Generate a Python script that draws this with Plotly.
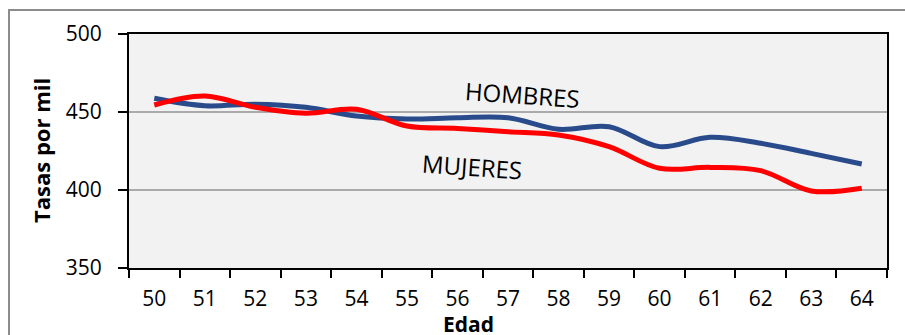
import plotly.graph_objects as go

# Edad (años) y tasas por mil por sexo
edades = ["50", "51", "52", "53", "54", "55", "56", "57", "58", "59", "60", "61", "62", "63", "64"]
hombres = [458.8, 454.0, 455.0, 453.0, 447.4, 445.5, 446.3, 446.3, 438.9, 440.6, 427.8, 433.8, 430.0, 423.5, 416.7]
mujeres = [454.5, 460.3, 453.0, 449.2, 451.7, 441.0, 439.5, 437.4, 435.3, 427.8, 413.9, 414.5, 412.4, 399.4, 401.1]
y_ticks = [350, 400, 450, 500]

FONT = "Open Sans"
AZUL = "#294B8B"
ROJO = "#FF0000"

fig = go.Figure()
fig.add_trace(go.Scatter(x=edades, y=hombres, mode="lines", name="HOMBRES",
                         line=dict(color=AZUL, width=5, shape="spline", smoothing=1.0)))
fig.add_trace(go.Scatter(x=edades, y=mujeres, mode="lines", name="MUJERES",
                         line=dict(color=ROJO, width=5, shape="spline", smoothing=1.0)))

W, H = 905, 335
L, R, T, B = 129, 18, 34, 67
pw, ph = W - L - R, H - T - B


def px(x):
    return (x - L) / pw


def py(y):
    return (H - B - y) / ph


def etiqueta(texto, x, y, yref="paper", size=21, angle=0):
    return dict(text=texto, xref="paper", yref=yref, x=x, y=y,
                xanchor="center", yanchor="middle", showarrow=False,
                textangle=angle, font=dict(size=size, family=FONT, color="black"))


fig.update_layout(
    width=W, height=H,
    margin=dict(l=L, r=R, t=T, b=B, pad=0),
    paper_bgcolor="white",
    plot_bgcolor="#F2F2F2",
    showlegend=False,
    font=dict(family=FONT, color="black"),
    xaxis=dict(
        type="category", categoryorder="array", categoryarray=edades,
        range=[-0.5, len(edades) - 0.5],
        tickson="boundaries", ticks="outside", ticklen=8, tickwidth=2, tickcolor="black",
        showline=True, linecolor="black", linewidth=2, mirror=True,
        showgrid=False, tickfont=dict(size=21, family=FONT),
        ticklabelstandoff=11,
    ),
    yaxis=dict(
        range=[350, 500], tickvals=y_ticks, ticktext=[str(v) for v in y_ticks],
        ticks="outside", ticklen=9, tickwidth=2, tickcolor="black",
        showline=True, linecolor="black", linewidth=2, mirror=True,
        showgrid=True, gridcolor="#AAAAAA", gridwidth=2, zeroline=False,
        tickfont=dict(size=21, family=FONT), ticklabelstandoff=12,
    ),
    shapes=[
        dict(type="rect", xref="paper", yref="paper",
             x0=px(9), x1=px(W + 20), y0=py(H + 20), y1=py(10),
             line=dict(color="#8C8C8C", width=2), fillcolor="rgba(0,0,0,0)", layer="below"),
    ],
    annotations=[
        etiqueta("HOMBRES", px(522), 461.5, yref="y", size=24, angle=4),
        etiqueta("MUJERES", px(472), 415.0, yref="y", size=24, angle=4),
        etiqueta("<b>Tasas por mil</b>", px(41), py(151), size=22, angle=-90),
        etiqueta("<b>Edad</b>", px(468), py(324), size=21),
    ],
)

fig.write_html("out.html")
